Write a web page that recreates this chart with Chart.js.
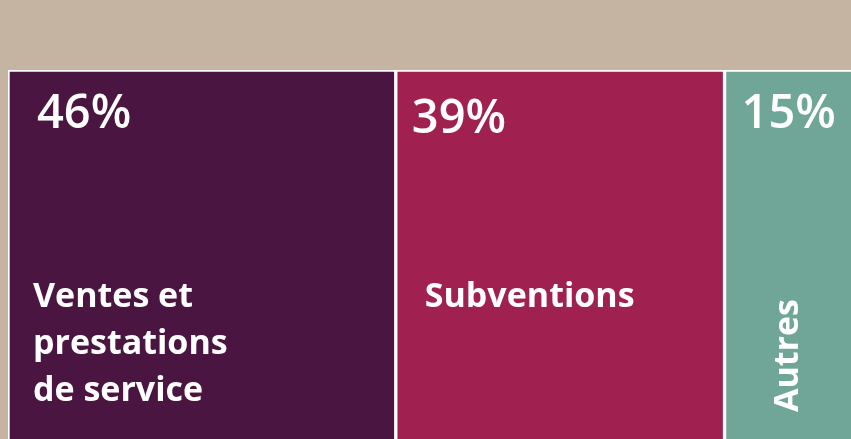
<!DOCTYPE html>
<html>
<head>
<meta charset="utf-8">
<script src="https://cdn.jsdelivr.net/npm/chart.js@4"></script>
<style>
  html, body { margin: 0; padding: 0; background: #c6b4a2; }
  canvas { display: block; }
</style>
</head>
<body>
<canvas id="myChart" width="851" height="439"></canvas>
<script>
const categories = ['Ventes et prestations de service', 'Subventions', 'Autres'];
const labelLines = [['Ventes et', 'prestations', 'de service'], ['Subventions'], ['Autres']];
const shares = [46, 39, 15];
const colors = ['#4b1541', '#a0214f', '#6fa697'];

// draws the % and the name inside each block
const blockLabels = {
  id: 'blockLabels',
  beforeDraw(chart) {
    const c = chart.ctx;
    c.save();
    c.fillStyle = '#c6b4a2';
    c.fillRect(0, 0, chart.width, chart.height);
    c.restore();
  },
  afterDatasetsDraw(chart) {
    const c = chart.ctx;
    const pctPos = [[27, 56], [14, 61], [15, 56]];
    const namePos = [[23, 235], [27, 235], [0, 0]];
    c.save();
    c.fillStyle = '#ffffff';
    c.textBaseline = 'alphabetic';
    chart.data.datasets.forEach((ds, i) => {
      const bar = chart.getDatasetMeta(i).data[0];
      const left = Math.min(bar.base, bar.x) + 2;
      const top = bar.y - bar.height / 2 + 2;
      c.font = '600 47px "Open Sans"';
      c.textAlign = 'left';
      c.fillText(ds.data[0] + '%', left + pctPos[i][0], top + pctPos[i][1]);
      c.font = '700 34px "Open Sans"';
      if (i === 2) {
        c.save();
        c.translate(left + 71, 412);
        c.rotate(-Math.PI / 2);
        c.fillText(labelLines[i][0], 0, 0);
        c.restore();
      } else {
        labelLines[i].forEach((line, k) => {
          c.fillText(line, left + namePos[i][0], top + namePos[i][1] + k * 47);
        });
      }
    });
    c.restore();
  }
};

const ctx = document.getElementById('myChart').getContext('2d');
const myChart = new Chart(ctx, {
  type: 'bar',
  data: {
    labels: [''],
    datasets: categories.map((name, i) => ({
      label: name,
      data: [shares[i]],
      backgroundColor: colors[i],
      borderColor: '#ffffff',
      borderWidth: i === 2 ? { top: 2, left: 2, right: 0, bottom: 0 } : { top: 2, left: 2, right: 2, bottom: 0 },
      borderSkipped: false,
      barPercentage: 1,
      categoryPercentage: 1
    }))
  },
  options: {
    indexAxis: 'y',
    responsive: false,
    animation: false,
    layout: { padding: { left: 8, top: 70, right: 0, bottom: 0 } },
    scales: {
      x: { stacked: true, min: 0, max: 100, display: false },
      y: { stacked: true, display: false }
    },
    plugins: {
      legend: { display: false },
      tooltip: { enabled: false }
    }
  },
  plugins: [blockLabels]
});
</script>
</body>
</html>
